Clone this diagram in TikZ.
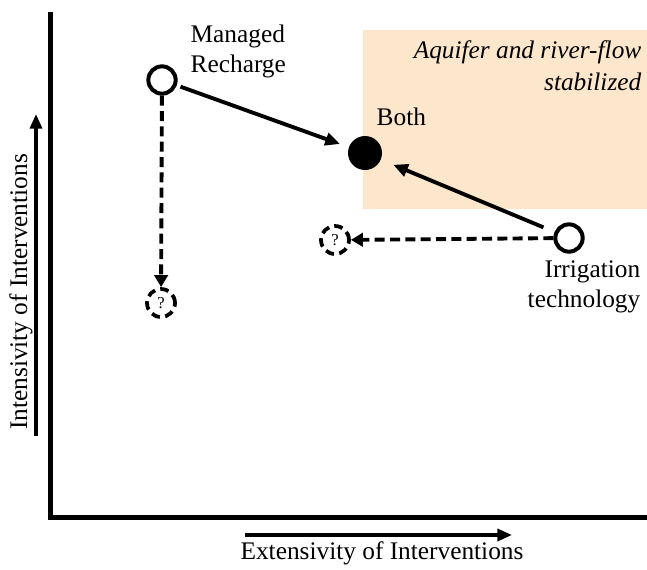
\documentclass[tikz,border=0pt]{standalone}
\usepackage{fontspec}
\setmainfont{Liberation Serif}
\usepackage{tikz}
\usetikzlibrary{arrows.meta,positioning}
\definecolor{stablebeige}{RGB}{252,230,204}

\begin{document}
\begin{tikzpicture}[
  x=0.75pt,y=-0.75pt,
  >={Triangle[length=11pt,width=9.5pt]},
  font=\fontsize{19}{22.5}\selectfont,
  option/.style={circle,draw,line width=3pt,minimum size=20.5pt,
                 inner sep=0pt,fill=white},
  combined/.style={circle,fill=black,minimum size=25.5pt,inner sep=0pt},
  unknown/.style={circle,draw,line width=2.8pt,dash pattern=on 6.5pt off 4pt,
                  minimum size=21pt,inner sep=0pt,font=\fontsize{12.5}{13}\selectfont},
  move/.style={->,line width=2.9pt},
  guess/.style={->,line width=2.9pt,dash pattern=on 7.5pt off 4pt,
                >={Triangle[length=9pt,width=10pt]}},
  axis/.style={line width=4pt},
  dir/.style={->,line width=2.6pt,>={Triangle[length=11pt,width=9pt]}},
]
\useasboundingbox (0,0) rectangle (647,569);

%% ── Stable region ────────────────────────────────────────────────────────────
\fill[stablebeige] (363,30) rectangle (647,209);
\node[font=\fontsize{19}{24}\selectfont\itshape,align=right,anchor=east]
  (stabletxt) at (646,66) {Aquifer and river-flow\\stabilized};

%% ── Axes ─────────────────────────────────────────────────────────────────────
\draw[axis] (50.5,12) -- (50.5,517.5) -- (647,517.5);
\coordinate (ylow) at (36,436);
\coordinate (yhigh) at (36,114);
\draw[dir] (ylow) -- (yhigh);
\node[rotate=90] (ylabel) at (21,292) {Intensivity of Interventions};
\coordinate (xlow) at (245,535);
\coordinate (xhigh) at (512,535);
\draw[dir] (xlow) -- (xhigh);
\node (xlabel) at (382,553) {Extensivity of Interventions};

%% ── Interventions ────────────────────────────────────────────────────────────
\node[option] (MR) at (162,80) {};
\node[option] (IT) at (569,238) {};
\node[combined] (BOTH) at (365,153) {};
\node[unknown] (Q1) at (161,303) {?};
\node[unknown] (Q2) at (335,240) {?};

\node[align=left,anchor=west] (MRlbl) at (186,51) {Managed\\Recharge};
\node[anchor=west] (BOTHlbl) at (372,117) {Both};
\node[align=right,anchor=east] (ITlbl) at (645,287) {Irrigation\\technology};

%% ── Transitions ──────────────────────────────────────────────────────────────
\draw[move,shorten <=3pt,shorten >=7pt] (MR) -- (BOTH);
\draw[move,shorten <=9pt,shorten >=10pt] (IT) -- (BOTH);
\draw[guess] (MR) -- (Q1);
\draw[guess] (IT) -- (Q2);

\end{tikzpicture}
\end{document}
